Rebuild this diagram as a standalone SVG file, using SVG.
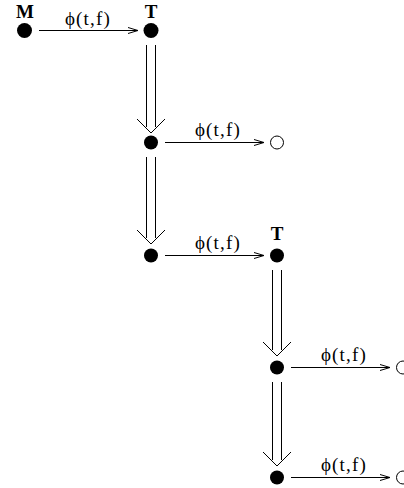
<svg xmlns="http://www.w3.org/2000/svg" width="404" height="488" viewBox="0 0 404 488">
<style>
.dot{fill:#000}
.open{fill:#fff;stroke:#000;stroke-width:1}
.ln{stroke:#000;stroke-width:1;fill:none}
.lbl{font-family:"Liberation Serif",serif;font-size:19px;font-weight:bold;text-anchor:middle}
.phi{font-family:"Liberation Serif",serif;font-size:19px;letter-spacing:1.2px;text-anchor:middle}
</style>
<defs>
<marker id="ah" markerUnits="userSpaceOnUse" markerWidth="14" markerHeight="10" refX="12" refY="5" orient="auto" overflow="visible">
<path d="M2,2 L12,5 L2,8" fill="none" stroke="#000" stroke-width="1"/>
</marker>
</defs>
<rect width="404" height="488" fill="#fff"/>
<g id="connectors">
<line class="ln" x1="39" y1="30.5" x2="138" y2="30.5" marker-end="url(#ah)"/>
<text class="phi" x="88" y="25">ϕ(t,f)</text>
<line class="ln" x1="165" y1="142.5" x2="264" y2="142.5" marker-end="url(#ah)"/>
<text class="phi" x="218" y="136">ϕ(t,f)</text>
<line class="ln" x1="165" y1="255.5" x2="264" y2="255.5" marker-end="url(#ah)"/>
<text class="phi" x="218" y="249">ϕ(t,f)</text>
<line class="ln" x1="291" y1="367.5" x2="390" y2="367.5" marker-end="url(#ah)"/>
<text class="phi" x="344" y="361">ϕ(t,f)</text>
<line class="ln" x1="291" y1="477.5" x2="390" y2="477.5" marker-end="url(#ah)"/>
<text class="phi" x="344" y="471">ϕ(t,f)</text>
<path class="ln" d="M146.5,45 V127 M155.5,45 V127 M137,119 L151,133 L165,119"/>
<path class="ln" d="M146.5,157 V238 M155.5,157 V238 M137,230 L151,244 L165,230"/>
<path class="ln" d="M272.5,270 V350 M281.5,270 V350 M263,342 L277,356 L291,342"/>
<path class="ln" d="M272.5,382 V460 M281.5,382 V460 M263,452 L277,466 L291,452"/>
</g>
<g id="M"><circle class="dot" cx="24.5" cy="30.5" r="7.5"/><text class="lbl" x="25" y="17.5">M</text></g>
<g id="T1"><circle class="dot" cx="151" cy="30.5" r="7.5"/><text class="lbl" x="151" y="17.5">T</text></g>
<g id="n2"><circle class="dot" cx="151" cy="142.5" r="7"/></g>
<g id="o1"><circle class="open" cx="277" cy="142.5" r="6.5"/></g>
<g id="n3"><circle class="dot" cx="151" cy="255.5" r="7"/></g>
<g id="T2"><circle class="dot" cx="277" cy="255.5" r="7"/><text class="lbl" x="277" y="240">T</text></g>
<g id="n4"><circle class="dot" cx="277" cy="367.5" r="7"/></g>
<g id="o2"><circle class="open" cx="403" cy="367.5" r="6.5"/></g>
<g id="n5"><circle class="dot" cx="277" cy="477.5" r="7"/></g>
<g id="o3"><circle class="open" cx="403" cy="477.5" r="6.5"/></g>
</svg>
